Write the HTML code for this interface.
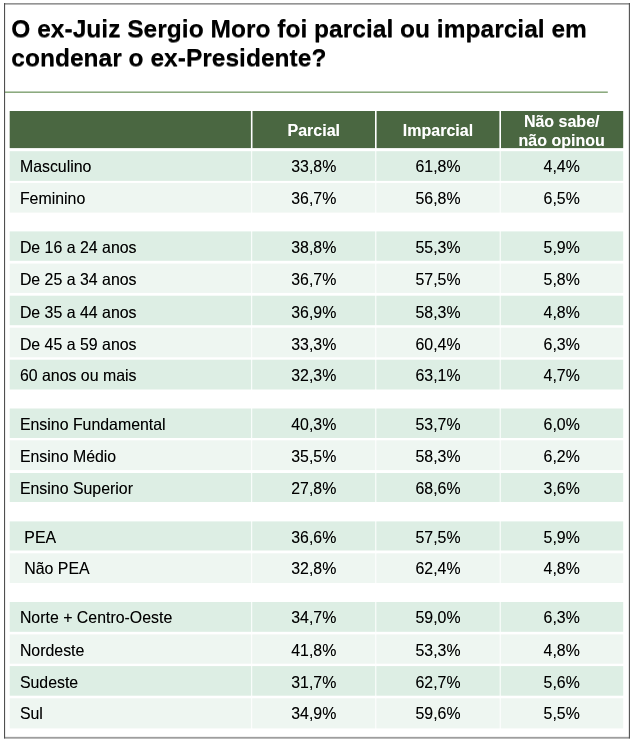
<!DOCTYPE html>
<html lang="pt-BR">
<head>
<meta charset="utf-8">
<title>O ex-Juiz Sergio Moro foi parcial ou imparcial?</title>
<style>
*{box-sizing:border-box;margin:0;padding:0}
html,body{width:634px;height:742px;background:#fff;overflow:hidden}
body{position:relative;font-family:"Liberation Sans",Arial,Helvetica,sans-serif;color:#000}
h1{position:absolute;left:0;top:0;font-size:24.55px;line-height:28px;font-weight:bold;white-space:nowrap}
h1 span{position:absolute;left:11.3px;display:block;height:28px;text-shadow:0 0.6px 0.4px rgba(0,0,0,0.55)}
.bg{position:absolute;left:0;top:0}
.tbl{position:absolute;left:0;top:0;width:634px;height:742px}
.hr,.r{position:absolute;left:0;width:634px}
.hr{top:111px;height:40px}
.hd,.c{position:absolute;white-space:nowrap}
.hd{color:#fff;font-weight:bold;font-size:16px;text-align:center;line-height:19px;overflow:hidden;text-shadow:0 0.4px 0.4px rgba(255,255,255,0.45)}
.r{height:20px;transform:scaleY(0.985);transform-origin:0 15.3px}
.c{top:0;font-size:15.9px;line-height:20px;height:20px;text-align:center;text-shadow:0 0.3px 0.4px rgba(0,0,0,0.4)}
.c.l{left:19.9px;text-align:left}
.c1{left:251.7px;width:124.1px}
.c2{left:375.8px;width:124.4px}
.c3{left:500.2px;width:123.0px}
</style>
</head>
<body>
<svg class="bg" width="634" height="742" viewBox="0 0 634 742" aria-hidden="true">
<rect x="9.70" y="111.00" width="241.20" height="37.10" fill="#4a6741"/>
<rect x="252.50" y="111.00" width="122.50" height="37.10" fill="#4a6741"/>
<rect x="376.60" y="111.00" width="122.80" height="37.10" fill="#4a6741"/>
<rect x="501.00" y="111.00" width="122.20" height="37.10" fill="#4a6741"/>
<rect x="9.70" y="151.20" width="241.50" height="29.70" fill="#ddeee4"/>
<rect x="252.20" y="151.20" width="123.10" height="29.70" fill="#ddeee4"/>
<rect x="376.30" y="151.20" width="123.40" height="29.70" fill="#ddeee4"/>
<rect x="500.70" y="151.20" width="122.50" height="29.70" fill="#ddeee4"/>
<rect x="9.70" y="182.90" width="241.50" height="29.70" fill="#eef6f1"/>
<rect x="252.20" y="182.90" width="123.10" height="29.70" fill="#eef6f1"/>
<rect x="376.30" y="182.90" width="123.40" height="29.70" fill="#eef6f1"/>
<rect x="500.70" y="182.90" width="122.50" height="29.70" fill="#eef6f1"/>
<rect x="9.70" y="231.40" width="241.50" height="29.40" fill="#ddeee4"/>
<rect x="252.20" y="231.40" width="123.10" height="29.40" fill="#ddeee4"/>
<rect x="376.30" y="231.40" width="123.40" height="29.40" fill="#ddeee4"/>
<rect x="500.70" y="231.40" width="122.50" height="29.40" fill="#ddeee4"/>
<rect x="9.70" y="263.60" width="241.50" height="29.30" fill="#eef6f1"/>
<rect x="252.20" y="263.60" width="123.10" height="29.30" fill="#eef6f1"/>
<rect x="376.30" y="263.60" width="123.40" height="29.30" fill="#eef6f1"/>
<rect x="500.70" y="263.60" width="122.50" height="29.30" fill="#eef6f1"/>
<rect x="9.70" y="295.70" width="241.50" height="29.50" fill="#ddeee4"/>
<rect x="252.20" y="295.70" width="123.10" height="29.50" fill="#ddeee4"/>
<rect x="376.30" y="295.70" width="123.40" height="29.50" fill="#ddeee4"/>
<rect x="500.70" y="295.70" width="122.50" height="29.50" fill="#ddeee4"/>
<rect x="9.70" y="327.70" width="241.50" height="29.60" fill="#eef6f1"/>
<rect x="252.20" y="327.70" width="123.10" height="29.60" fill="#eef6f1"/>
<rect x="376.30" y="327.70" width="123.40" height="29.60" fill="#eef6f1"/>
<rect x="500.70" y="327.70" width="122.50" height="29.60" fill="#eef6f1"/>
<rect x="9.70" y="359.70" width="241.50" height="29.80" fill="#ddeee4"/>
<rect x="252.20" y="359.70" width="123.10" height="29.80" fill="#ddeee4"/>
<rect x="376.30" y="359.70" width="123.40" height="29.80" fill="#ddeee4"/>
<rect x="500.70" y="359.70" width="122.50" height="29.80" fill="#ddeee4"/>
<rect x="9.70" y="408.50" width="241.50" height="29.50" fill="#ddeee4"/>
<rect x="252.20" y="408.50" width="123.10" height="29.50" fill="#ddeee4"/>
<rect x="376.30" y="408.50" width="123.40" height="29.50" fill="#ddeee4"/>
<rect x="500.70" y="408.50" width="122.50" height="29.50" fill="#ddeee4"/>
<rect x="9.70" y="440.30" width="241.50" height="29.80" fill="#eef6f1"/>
<rect x="252.20" y="440.30" width="123.10" height="29.80" fill="#eef6f1"/>
<rect x="376.30" y="440.30" width="123.40" height="29.80" fill="#eef6f1"/>
<rect x="500.70" y="440.30" width="122.50" height="29.80" fill="#eef6f1"/>
<rect x="9.70" y="473.00" width="241.50" height="29.00" fill="#ddeee4"/>
<rect x="252.20" y="473.00" width="123.10" height="29.00" fill="#ddeee4"/>
<rect x="376.30" y="473.00" width="123.40" height="29.00" fill="#ddeee4"/>
<rect x="500.70" y="473.00" width="122.50" height="29.00" fill="#ddeee4"/>
<rect x="9.70" y="521.40" width="241.50" height="29.10" fill="#ddeee4"/>
<rect x="252.20" y="521.40" width="123.10" height="29.10" fill="#ddeee4"/>
<rect x="376.30" y="521.40" width="123.40" height="29.10" fill="#ddeee4"/>
<rect x="500.70" y="521.40" width="122.50" height="29.10" fill="#ddeee4"/>
<rect x="9.70" y="553.30" width="241.50" height="29.70" fill="#eef6f1"/>
<rect x="252.20" y="553.30" width="123.10" height="29.70" fill="#eef6f1"/>
<rect x="376.30" y="553.30" width="123.40" height="29.70" fill="#eef6f1"/>
<rect x="500.70" y="553.30" width="122.50" height="29.70" fill="#eef6f1"/>
<rect x="9.70" y="602.00" width="241.50" height="29.80" fill="#ddeee4"/>
<rect x="252.20" y="602.00" width="123.10" height="29.80" fill="#ddeee4"/>
<rect x="376.30" y="602.00" width="123.40" height="29.80" fill="#ddeee4"/>
<rect x="500.70" y="602.00" width="122.50" height="29.80" fill="#ddeee4"/>
<rect x="9.70" y="634.40" width="241.50" height="29.30" fill="#eef6f1"/>
<rect x="252.20" y="634.40" width="123.10" height="29.30" fill="#eef6f1"/>
<rect x="376.30" y="634.40" width="123.40" height="29.30" fill="#eef6f1"/>
<rect x="500.70" y="634.40" width="122.50" height="29.30" fill="#eef6f1"/>
<rect x="9.70" y="666.10" width="241.50" height="29.60" fill="#ddeee4"/>
<rect x="252.20" y="666.10" width="123.10" height="29.60" fill="#ddeee4"/>
<rect x="376.30" y="666.10" width="123.40" height="29.60" fill="#ddeee4"/>
<rect x="500.70" y="666.10" width="122.50" height="29.60" fill="#ddeee4"/>
<rect x="9.70" y="698.30" width="241.50" height="30.10" fill="#eef6f1"/>
<rect x="252.20" y="698.30" width="123.10" height="30.10" fill="#eef6f1"/>
<rect x="376.30" y="698.30" width="123.40" height="30.10" fill="#eef6f1"/>
<rect x="500.70" y="698.30" width="122.50" height="30.10" fill="#eef6f1"/>
<rect x="5" y="91.45" width="602.8" height="1.5" fill="#87a679"/>
<rect x="4" y="3" width="626" height="1.65" fill="#949494"/>
<rect x="4" y="736.85" width="626" height="1.85" fill="#9e9e9e"/>
<rect x="4" y="3" width="1.1" height="735.4" fill="#505050"/>
<rect x="628.85" y="3" width="1.1" height="735.4" fill="#505050"/>
</svg>
<h1><span style="top:15px">O ex-Juiz Sergio Moro foi parcial ou imparcial em</span> <span style="top:44px">condenar o ex-Presidente?</span></h1>
<div class="tbl" role="table">
<div class="hr" role="row">
<div class="hd c1" role="columnheader" style="top:9.5px;height:19.0px">Parcial</div>
<div class="hd c2" role="columnheader" style="top:9.5px;height:19.0px">Imparcial</div>
<div class="hd c3" role="columnheader" style="top:0.5px;height:38.5px">Não sabe/<br>não opinou</div>
</div>
<div class="r" role="row" style="top:157px"><div class="c l" role="rowheader">Masculino</div><div class="c c1" role="cell">33,8%</div><div class="c c2" role="cell">61,8%</div><div class="c c3" role="cell">4,4%</div></div>
<div class="r" role="row" style="top:189px"><div class="c l" role="rowheader">Feminino</div><div class="c c1" role="cell">36,7%</div><div class="c c2" role="cell">56,8%</div><div class="c c3" role="cell">6,5%</div></div>
<div class="r" role="row" style="top:238px"><div class="c l" role="rowheader">De 16 a 24 anos</div><div class="c c1" role="cell">38,8%</div><div class="c c2" role="cell">55,3%</div><div class="c c3" role="cell">5,9%</div></div>
<div class="r" role="row" style="top:270px"><div class="c l" role="rowheader">De 25 a 34 anos</div><div class="c c1" role="cell">36,7%</div><div class="c c2" role="cell">57,5%</div><div class="c c3" role="cell">5,8%</div></div>
<div class="r" role="row" style="top:303px"><div class="c l" role="rowheader">De 35 a 44 anos</div><div class="c c1" role="cell">36,9%</div><div class="c c2" role="cell">58,3%</div><div class="c c3" role="cell">4,8%</div></div>
<div class="r" role="row" style="top:335px"><div class="c l" role="rowheader">De 45 a 59 anos</div><div class="c c1" role="cell">33,3%</div><div class="c c2" role="cell">60,4%</div><div class="c c3" role="cell">6,3%</div></div>
<div class="r" role="row" style="top:366px"><div class="c l" role="rowheader">60 anos ou mais</div><div class="c c1" role="cell">32,3%</div><div class="c c2" role="cell">63,1%</div><div class="c c3" role="cell">4,7%</div></div>
<div class="r" role="row" style="top:415px"><div class="c l" role="rowheader">Ensino Fundamental</div><div class="c c1" role="cell">40,3%</div><div class="c c2" role="cell">53,7%</div><div class="c c3" role="cell">6,0%</div></div>
<div class="r" role="row" style="top:447px"><div class="c l" role="rowheader">Ensino Médio</div><div class="c c1" role="cell">35,5%</div><div class="c c2" role="cell">58,3%</div><div class="c c3" role="cell">6,2%</div></div>
<div class="r" role="row" style="top:479px"><div class="c l" role="rowheader">Ensino Superior</div><div class="c c1" role="cell">27,8%</div><div class="c c2" role="cell">68,6%</div><div class="c c3" role="cell">3,6%</div></div>
<div class="r" role="row" style="top:528px"><div class="c l" role="rowheader">&nbsp;PEA</div><div class="c c1" role="cell">36,6%</div><div class="c c2" role="cell">57,5%</div><div class="c c3" role="cell">5,9%</div></div>
<div class="r" role="row" style="top:559px"><div class="c l" role="rowheader">&nbsp;Não PEA</div><div class="c c1" role="cell">32,8%</div><div class="c c2" role="cell">62,4%</div><div class="c c3" role="cell">4,8%</div></div>
<div class="r" role="row" style="top:608px"><div class="c l" role="rowheader">Norte + Centro-Oeste</div><div class="c c1" role="cell">34,7%</div><div class="c c2" role="cell">59,0%</div><div class="c c3" role="cell">6,3%</div></div>
<div class="r" role="row" style="top:641px"><div class="c l" role="rowheader">Nordeste</div><div class="c c1" role="cell">41,8%</div><div class="c c2" role="cell">53,3%</div><div class="c c3" role="cell">4,8%</div></div>
<div class="r" role="row" style="top:673px"><div class="c l" role="rowheader">Sudeste</div><div class="c c1" role="cell">31,7%</div><div class="c c2" role="cell">62,7%</div><div class="c c3" role="cell">5,6%</div></div>
<div class="r" role="row" style="top:704px"><div class="c l" role="rowheader">Sul</div><div class="c c1" role="cell">34,9%</div><div class="c c2" role="cell">59,6%</div><div class="c c3" role="cell">5,5%</div></div>
</div>
</body>
</html>
